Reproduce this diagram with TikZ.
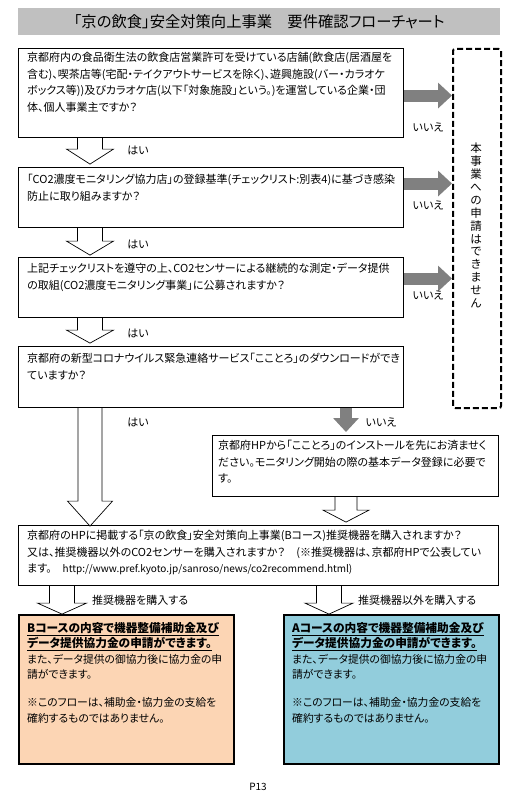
\documentclass[tikz,border=0pt]{standalone}
\usepackage{fontspec}
\setmainfont{Noto Sans CJK JP}[RawFeature=+palt]
\usetikzlibrary{arrows.meta,calc}
\definecolor{titlegray}{HTML}{C0C0C0}
\definecolor{arrgray}{HTML}{808080}
\definecolor{peach}{HTML}{FCD5B4}
\definecolor{skyb}{HTML}{92CDDC}
\newcommand\harrow[5]{\filldraw[hollow] #1 -- ++(0,#2) -- ++(-#5+#4,0) -- ++(#5,#3) -- ++(#5,-#3) -- ++(-#5+#4,0) -- ++(0,-#2);}
\newcommand\bul[1]{\underline{{\fontsize{11.7}{15.4}\selectfont\textbf{#1}}}}
\begin{document}
\begin{tikzpicture}[x=1pt,y=-1pt,
  box/.style={draw, line width=1.1pt, anchor=north west, inner sep=0pt, fill=white},
  txt/.style={anchor=north west, inner sep=0pt, align=left, font=\fontsize{11}{16.7}\selectfont},
  restxt/.style={anchor=north west, inner sep=0pt, align=left, font=\fontsize{10.8}{15.4}\selectfont},
  lbl/.style={inner sep=0pt, font=\fontsize{11}{13}\selectfont},
  hollow/.style={draw, fill=white, line width=0.7pt, line join=miter},
  grayarr/.style={draw=arrgray, line width=12pt, -{Triangle[length=14pt,width=25pt]}}]
\useasboundingbox (0,0) rectangle (532,800);
\fill[white] (0,0) rectangle (532,800);
% title
\node[fill=titlegray, minimum width=482pt, minimum height=27pt, anchor=north west, inner sep=0pt,
  font=\fontsize{15.3}{16}\selectfont] (title) at (18,8) {「京の飲食」安全対策向上事業　要件確認フローチャート};
% boxes
\node[box, minimum width=385pt, minimum height=89pt] (b1) at (18,48) {};
\node[box, minimum width=385pt, minimum height=60pt] (b2) at (18,167) {};
\node[box, minimum width=385pt, minimum height=60pt] (b3) at (18,257) {};
\node[box, minimum width=385pt, minimum height=61pt] (b4) at (18,346) {};
\node[box, minimum width=286pt, minimum height=61pt] (b5) at (212,435) {};
\node[box, minimum width=480pt, minimum height=60pt] (b6) at (18,525) {};
\node[box, line width=1.5pt, fill=peach, minimum width=215pt, minimum height=149pt] (bB) at (18,614) {};
\node[box, line width=1.5pt, fill=skyb, minimum width=215pt, minimum height=149pt] (bA) at (283,614) {};
\node[draw, line width=2pt, dash pattern=on 6pt off 3pt, rounded corners=2pt, anchor=north west,
  minimum width=48pt, minimum height=359pt, inner sep=0pt] (nobox) at (452,48) {};
% texts
\node[txt] (t1) at ([xshift=9pt,yshift=-4pt]b1.north west) {京都府内の食品衛生法の飲食店営業許可を受けている店舗(飲食店(居酒屋を\\含む)、喫茶店等(宅配・テイクアウトサービスを除く)、遊興施設(バー・カラオケ\\ボックス等))及びカラオケ店(以下「対象施設」という。)を運営している企業・団\\体、個人事業主ですか？};
\node[txt] (t2) at ([xshift=9pt,yshift=-7pt]b2.north west) {「CO2濃度モニタリング協力店」の登録基準(チェックリスト:別表4)に基づき感染\\防止に取り組みますか？};
\node[txt] (t3) at ([xshift=9pt,yshift=-6pt]b3.north west) {上記チェックリストを遵守の上、CO2センサーによる継続的な測定・データ提供\\の取組(CO2濃度モニタリング事業」に公募されますか？};
\node[txt] (t4) at ([xshift=9pt,yshift=-7pt]b4.north west) {京都府の新型コロナウイルス緊急連絡サービス「こことろ」のダウンロードができ\\ていますか？};
\node[txt] (t5) at ([xshift=6pt,yshift=-5pt]b5.north west) {京都府HPから「こことろ」のインストールを先にお済ませく\\ださい。モニタリング開始の際の基本データ登録に必要で\\す。};
\node[txt] (t6) at ([xshift=9pt,yshift=-5pt]b6.north west) {京都府のHPに掲載する「京の飲食」安全対策向上事業(Bコース)推奨機器を購入されますか？\\又は、推奨機器以外のCO2センサーを購入されますか？　(※推奨機器は、京都府HPで公表してい\\ます。　{\fontsize{10}{12}\selectfont http://www.pref.kyoto.jp/sanroso/news/co2recommend.html)}};
\node[restxt] (tB) at ([xshift=9pt,yshift=-8pt]bB.north west) {\bul{Bコースの内容で機器整備補助金及び}\\\bul{データ提供協力金の申請ができます。}\\また、データ提供の御協力後に協力金の申\\請ができます。\\[13pt]※このフローは、補助金・協力金の支給を\\確約するものではありません。};
\node[restxt] (tA) at ([xshift=9pt,yshift=-8pt]bA.north west) {\bul{Aコースの内容で機器整備補助金及び}\\\bul{データ提供協力金の申請ができます。}\\また、データ提供の御協力後に協力金の申\\請ができます。\\[13pt]※このフローは、補助金・協力金の支給を\\確約するものではありません。};
\node[inner sep=0pt, align=center, font=\fontsize{11.5}{12.9}\selectfont] (tno) at (476,225.5) {本\\事\\業\\へ\\の\\申\\請\\は\\で\\き\\ま\\せ\\ん};
% hollow arrows (yes)
\harrow{([xshift=59.5pt]b1.south west)}{11}{15}{12.5}{23.5}
\harrow{([xshift=59.5pt]b2.south west)}{13}{14}{12.5}{23.5}
\harrow{([xshift=59.5pt]b3.south west)}{12}{13}{12.5}{23.5}
\harrow{([xshift=60pt]b4.south west)}{93}{25}{12}{22.5}
\harrow{([xshift=123pt]b5.south west)}{13}{12}{11}{23}
\harrow{([xshift=31.5pt]b6.south west)}{17}{11}{12.5}{24.5}
\harrow{([xshift=298.5pt]b6.south west)}{17}{11}{12.5}{24}
% gray arrows (no)
\draw[grayarr] ([yshift=-2.5pt]b1.east) -- ([yshift=-2.5pt]b1.east -| nobox.west);
\draw[grayarr] ([yshift=14pt]b2.east) -- ([yshift=14pt]b2.east -| nobox.west);
\draw[grayarr] ([yshift=9pt]b3.east) -- ([yshift=9pt]b3.east -| nobox.west);
\draw[grayarr, shorten >=3pt] ([xshift=328pt]b4.south west) -- ([xshift=328pt]b4.south west |- b5.north);
% labels
\node[lbl] (y1) at (138,150) {はい};
\node[lbl] (y2) at (138,244) {はい};
\node[lbl] (y3) at (138,333) {はい};
\node[lbl] (y4) at (138,422) {はい};
\node[lbl] (n1) at (428,127) {いいえ};
\node[lbl] (n2) at (428,205) {いいえ};
\node[lbl] (n3) at (428,295) {いいえ};
\node[lbl] (n4) at (381,422) {いいえ};
\node[lbl, anchor=west] (lB) at (92,600) {推奨機器を購入する};
\node[lbl, anchor=west] (lA) at (358,600) {推奨機器以外を購入する};
\node[inner sep=0pt, font=\fontsize{10}{12}\selectfont] (pg) at (258,787) {P13};
\end{tikzpicture}
\end{document}
